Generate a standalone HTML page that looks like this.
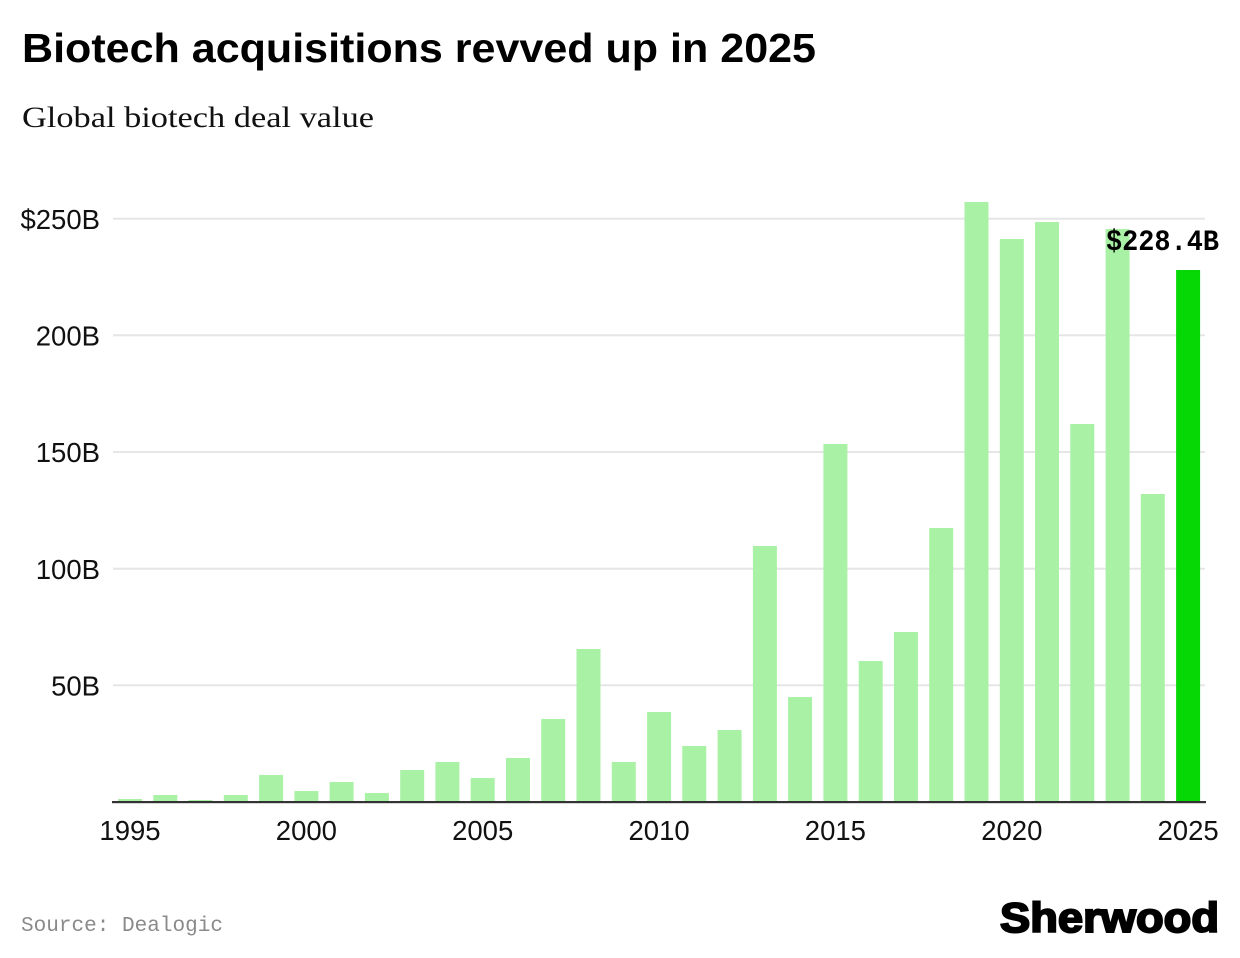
<!DOCTYPE html>
<html>
<head>
<meta charset="utf-8">
<style>
  html,body{margin:0;padding:0;background:#fff;}
  svg{display:block;}
</style>
</head>
<body>
<svg width="1240" height="958" viewBox="0 0 1240 958" xmlns="http://www.w3.org/2000/svg">
  <rect width="1240" height="958" fill="#fff"/>
  <!-- Title -->
  <text x="22" y="62" font-family="Liberation Sans, Arial, sans-serif" font-weight="bold" font-size="41" fill="#000" textLength="794" lengthAdjust="spacingAndGlyphs">Biotech acquisitions revved up in 2025</text>
  <!-- Subtitle -->
  <text x="22" y="127" font-family="Liberation Serif, serif" font-size="30" fill="#111" textLength="352" lengthAdjust="spacingAndGlyphs">Global biotech deal value</text>

  <!-- Gridlines -->
  <g stroke="#e6e6e6" stroke-width="2">
    <line x1="113" y1="218.7" x2="1205" y2="218.7"/>
    <line x1="113" y1="335.3" x2="1205" y2="335.3"/>
    <line x1="113" y1="452" x2="1205" y2="452"/>
    <line x1="113" y1="568.7" x2="1205" y2="568.7"/>
    <line x1="113" y1="685.3" x2="1205" y2="685.3"/>
  </g>

  <!-- Y labels -->
  <g font-family="Liberation Sans, Arial, sans-serif" font-size="27.5" fill="#111" text-anchor="end">
    <text x="100" y="229">$250B</text>
    <text x="100" y="345.5">200B</text>
    <text x="100" y="462">150B</text>
    <text x="100" y="579">100B</text>
    <text x="100" y="695.5">50B</text>
  </g>

  <!-- Bars -->
  <g fill="#a9f2a5">
    <rect x="118.0" y="799" width="24" height="3"/>
    <rect x="153.3" y="795" width="24" height="7"/>
    <rect x="188.5" y="800" width="24" height="2"/>
    <rect x="223.8" y="795" width="24" height="7"/>
    <rect x="259.1" y="775" width="24" height="27"/>
    <rect x="294.4" y="791" width="24" height="11"/>
    <rect x="329.6" y="782" width="24" height="20"/>
    <rect x="364.9" y="793" width="24" height="9"/>
    <rect x="400.2" y="770" width="24" height="32"/>
    <rect x="435.4" y="762" width="24" height="40"/>
    <rect x="470.7" y="778" width="24" height="24"/>
    <rect x="506.0" y="758" width="24" height="44"/>
    <rect x="541.2" y="719" width="24" height="83"/>
    <rect x="576.5" y="649" width="24" height="153"/>
    <rect x="611.8" y="762" width="24" height="40"/>
    <rect x="647.1" y="712" width="24" height="90"/>
    <rect x="682.3" y="746" width="24" height="56"/>
    <rect x="717.6" y="730" width="24" height="72"/>
    <rect x="752.9" y="546" width="24" height="256"/>
    <rect x="788.1" y="697" width="24" height="105"/>
    <rect x="823.4" y="444" width="24" height="358"/>
    <rect x="858.7" y="661" width="24" height="141"/>
    <rect x="893.9" y="632" width="24" height="170"/>
    <rect x="929.2" y="528" width="24" height="274"/>
    <rect x="964.5" y="202" width="24" height="600"/>
    <rect x="999.8" y="239" width="24" height="563"/>
    <rect x="1035.0" y="222" width="24" height="580"/>
    <rect x="1070.3" y="424" width="24" height="378"/>
    <rect x="1105.6" y="229" width="24" height="573"/>
    <rect x="1140.8" y="494" width="24" height="308"/>
  </g>
  <rect x="1176.1" y="270" width="24" height="532" fill="#06d806"/>

  <!-- Axis -->
  <rect x="112" y="801" width="1094" height="2.2" fill="#333"/>

  <!-- X labels -->
  <g font-family="Liberation Sans, Arial, sans-serif" font-size="27.5" fill="#111" text-anchor="middle">
    <text x="130" y="840">1995</text>
    <text x="306.4" y="840">2000</text>
    <text x="482.7" y="840">2005</text>
    <text x="659.1" y="840">2010</text>
    <text x="835.4" y="840">2015</text>
    <text x="1011.8" y="840">2020</text>
    <text x="1188.1" y="840">2025</text>
  </g>

  <!-- Value label -->
  <text x="1106" y="250" font-family="Liberation Mono, monospace" font-weight="bold" font-size="30" fill="#000" textLength="113" lengthAdjust="spacingAndGlyphs">$228.4B</text>

  <!-- Source -->
  <text x="21" y="931" font-family="Liberation Mono, monospace" font-size="21" fill="#8a8a8a" textLength="202" lengthAdjust="spacingAndGlyphs">Source: Dealogic</text>

  <!-- Logo -->
  <text x="1000" y="932" font-family="Liberation Sans, Arial, sans-serif" font-weight="bold" font-size="42" fill="#000" stroke="#000" stroke-width="2" textLength="219" lengthAdjust="spacingAndGlyphs">Sherwood</text>
</svg>
</body>
</html>
